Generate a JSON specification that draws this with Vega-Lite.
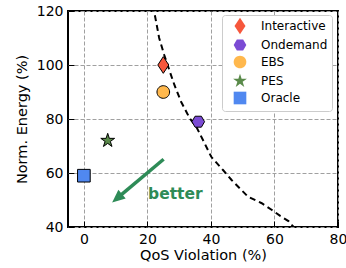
{
  "$schema": "https://vega.github.io/schema/vega-lite/v6.json",
  "width": 270,
  "height": 216,
  "autosize": {"type": "none"},
  "padding": {"left": 68, "top": 11, "right": 8, "bottom": 41},
  "background": "white",
  "config": {
    "font": "DejaVu Sans",
    "view": {"stroke": "black", "strokeWidth": 2},
    "legend": {
      "orient": "none",
      "legendX": 154,
      "legendY": 4,
      "strokeColor": "#cccccc",
      "fillColor": "white",
      "cornerRadius": 3,
      "padding": 4,
      "symbolOffset": 7,
      "labelOffset": 14,
      "labelFontSize": 12,
      "labelColor": "black",
      "rowPadding": 0,
      "symbolSize": 160,
      "symbolStrokeWidth": 1,
      "symbolStrokeColor": "black",
      "symbolOpacity": 1
    }
  },
  "datasets": {
    "curve": [
      {"q": 21.5, "e": 122},
      {"q": 22.1, "e": 120},
      {"q": 23.7, "e": 110},
      {"q": 25.3, "e": 103.7},
      {"q": 26.9, "e": 98.1},
      {"q": 28.5, "e": 92.6},
      {"q": 30.6, "e": 86.4},
      {"q": 33.3, "e": 80.3},
      {"q": 35.4, "e": 77.1},
      {"q": 38.0, "e": 71.0},
      {"q": 40.1, "e": 66.0},
      {"q": 43.8, "e": 61.1},
      {"q": 46.5, "e": 57.4},
      {"q": 49.1, "e": 54.3},
      {"q": 51.7, "e": 51.2},
      {"q": 53.3, "e": 50.3},
      {"q": 56.0, "e": 48.8},
      {"q": 59.2, "e": 46.3},
      {"q": 61.8, "e": 44.1},
      {"q": 64.4, "e": 42.2},
      {"q": 65.5, "e": 40.7},
      {"q": 66.5, "e": 39.5}
    ],
    "points": [
      {"method": "Interactive", "q": 25, "e": 100},
      {"method": "Ondemand", "q": 36, "e": 79},
      {"method": "EBS", "q": 25, "e": 90},
      {"method": "PES", "q": 7.5, "e": 72},
      {"method": "Oracle", "q": 0, "e": 59}
    ],
    "arrow": [
      {"q": 25.1, "e": 65.1, "q2": 10.6, "e2": 50.8, "tq": 8.9, "te": 49.1}
    ],
    "label": [
      {"q": 28.8, "e": 52.2, "text": "better"}
    ]
  },
  "layer": [
    {
      "data": {"name": "curve"},
      "mark": {"type": "line", "color": "black", "strokeWidth": 2, "strokeDash": [6, 4], "clip": true},
      "encoding": {
        "x": {
          "field": "q", "type": "quantitative",
          "scale": {"domain": [-5, 80], "nice": false, "zero": false},
          "axis": {
            "title": "QoS Violation (%)",
            "values": [0,5,10,15,20,25,30,35,40,45,50,55,60,65,70,75,80],
            "domain": false,
            "tickColor": "black",
            "tickWidth": 1,
            "tickSize": {"condition": {"test": "abs(datum.value - 20*round(datum.value/20)) < 0.5", "value": -6}, "value": -3.5},
            "gridColor": "#a0a0a0",
            "gridDash": [4, 2],
            "gridWidth": 1,
            "gridOpacity": {"condition": {"test": "abs(datum.value - 20*round(datum.value/20)) < 0.5", "value": 1}, "value": 0},
            "labelExpr": "abs(datum.value - 20*round(datum.value/20)) < 0.5 ? datum.label : ''",
            "labelFontSize": 14,
            "labelColor": "black",
            "labelFlush": false,
            "labelOverlap": false,
            "labelPadding": 11,
            "titleFontSize": 14.5,
            "titleFontWeight": "normal",
            "titleColor": "black",
            "titlePadding": 2
          }
        },
        "y": {
          "field": "e", "type": "quantitative",
          "scale": {"domain": [40, 120], "nice": false, "zero": false},
          "axis": {
            "title": "Norm. Energy (%)",
            "values": [40,45,50,55,60,65,70,75,80,85,90,95,100,105,110,115,120],
            "domain": false,
            "tickColor": "black",
            "tickWidth": 1,
            "tickSize": {"condition": {"test": "abs(datum.value - 20*round(datum.value/20)) < 0.5", "value": -6}, "value": -3.5},
            "gridColor": "#a0a0a0",
            "gridDash": [4, 2],
            "gridWidth": 1,
            "gridOpacity": {"condition": {"test": "abs(datum.value - 20*round(datum.value/20)) < 0.5", "value": 1}, "value": 0},
            "labelExpr": "abs(datum.value - 20*round(datum.value/20)) < 0.5 ? datum.label : ''",
            "labelFontSize": 14,
            "labelColor": "black",
            "labelFlush": false,
            "labelOverlap": false,
            "labelPadding": 11,
            "titleFontSize": 14.5,
            "titleFontWeight": "normal",
            "titleColor": "black",
            "titlePadding": 7
          }
        },
        "order": {"field": "q", "type": "quantitative"}
      }
    },
    {
      "data": {"name": "points"},
      "mark": {"type": "point", "filled": true, "stroke": "black", "strokeWidth": 1, "size": 160, "opacity": 1},
      "encoding": {
        "x": {"field": "q", "type": "quantitative"},
        "y": {"field": "e", "type": "quantitative"},
        "color": {
          "field": "method", "type": "nominal",
          "scale": {"domain": ["Interactive", "Ondemand", "EBS", "PES", "Oracle"], "range": ["#f6573c", "#7b4bd4", "#ffb84d", "#5a8a4a", "#5088f0"]},
          "legend": {"title": null}
        },
        "shape": {
          "field": "method", "type": "nominal",
          "scale": {"domain": ["Interactive", "Ondemand", "EBS", "PES", "Oracle"], "range": [
            "M0,-1.32L0.87,0L0,1.32L-0.87,0Z",
            "M1,0L0.5,0.866L-0.5,0.866L-1,0L-0.5,-0.866L0.5,-0.866Z",
            "M1,0A1,1,0,1,1,-1,0A1,1,0,1,1,1,0Z",
            "M0,-1.15L0.258,-0.355L1.094,-0.355L0.417,0.136L0.676,0.93L0,0.439L-0.676,0.93L-0.417,0.136L-1.094,-0.355L-0.258,-0.355Z",
            "M-1,-1H1V1H-1Z"
          ]},
          "legend": {"title": null}
        }
      }
    },
    {
      "data": {"name": "arrow"},
      "mark": {"type": "rule", "color": "#2e8b57", "strokeWidth": 3.5},
      "encoding": {
        "x": {"field": "q", "type": "quantitative"},
        "y": {"field": "e", "type": "quantitative"},
        "x2": {"field": "q2"},
        "y2": {"field": "e2"}
      }
    },
    {
      "data": {"name": "arrow"},
      "mark": {"type": "point", "filled": true, "color": "#2e8b57", "opacity": 1, "shape": "M0,0L0.75,1.7L-0.75,1.7Z", "angle": 230, "size": 230, "strokeWidth": 0},
      "encoding": {
        "x": {"field": "tq", "type": "quantitative"},
        "y": {"field": "te", "type": "quantitative"}
      }
    },
    {
      "data": {"name": "label"},
      "mark": {"type": "text", "color": "#2e8b57", "fontSize": 15.5, "fontWeight": "bold", "align": "center", "baseline": "middle"},
      "encoding": {
        "x": {"field": "q", "type": "quantitative"},
        "y": {"field": "e", "type": "quantitative"},
        "text": {"field": "text"}
      }
    }
  ]
}
